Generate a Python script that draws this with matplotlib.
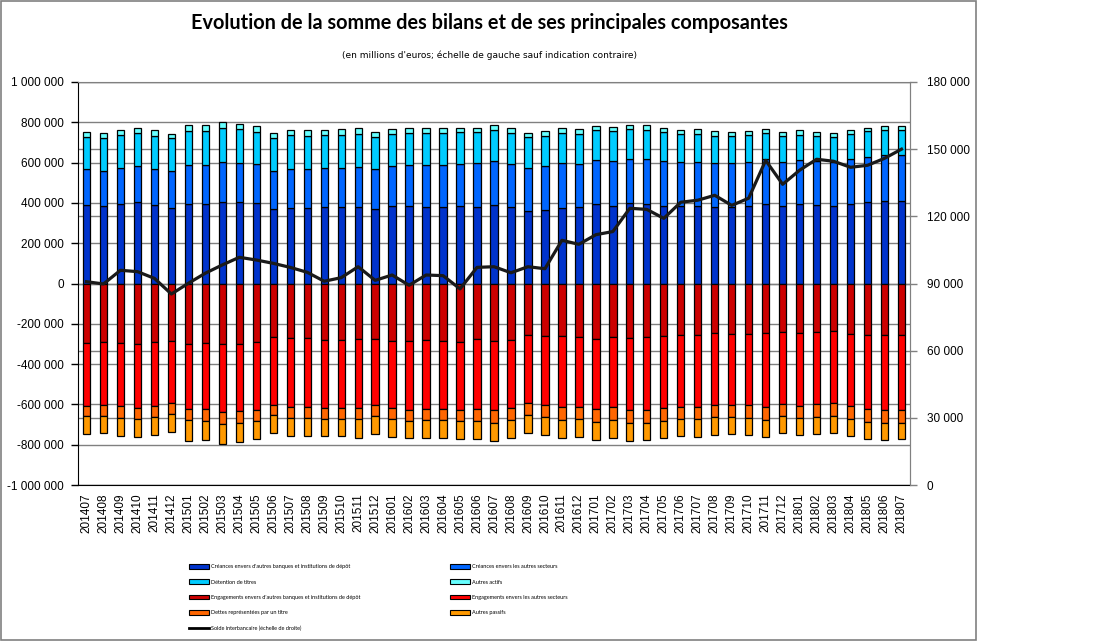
import matplotlib
matplotlib.use("Agg")
import matplotlib.pyplot as plt
from matplotlib.patches import Patch, Rectangle
from matplotlib.lines import Line2D
from matplotlib.ticker import FuncFormatter
import numpy as np

# periods 201407 .. 201807
months = []
for y in range(2014, 2019):
    for m in range(1, 13):
        p = y * 100 + m
        if 201407 <= p <= 201807:
            months.append(str(p))

# actifs (millions d'euros)
creances_banques = [388, 383, 393, 403, 388, 373, 393, 393, 403, 403, 398, 368, 373, 373, 378, 378, 378,
                    368, 383, 383, 378, 378, 383, 378, 388, 378, 358, 363, 373, 378, 393, 383, 398, 393,
                    383, 383, 383, 378, 378, 383, 393, 383, 393, 388, 383, 393, 403, 408, 408]
creances_secteurs = [179, 174, 179, 178, 179, 184, 193, 193, 198, 193, 193, 189, 194, 194, 194, 194, 199,
                     199, 198, 203, 208, 208, 208, 218, 218, 213, 214, 218, 223, 213, 218, 223, 218, 223,
                     223, 218, 218, 218, 218, 218, 223, 218, 218, 218, 218, 223, 223, 228, 228]
titres = [158, 163, 165, 166, 165, 163, 169, 169, 169, 169, 159, 163, 168, 163, 163, 163, 163,
          158, 159, 159, 159, 159, 159, 154, 154, 154, 153, 149, 149, 149, 149, 149, 149, 144,
          144, 139, 139, 134, 134, 134, 129, 129, 124, 124, 124, 124, 129, 124, 124]
autres_actifs = [25, 25, 23, 23, 28, 20, 30, 30, 30, 25, 30, 25, 25, 30, 25, 30, 30,
                 25, 25, 25, 25, 25, 20, 20, 25, 25, 20, 25, 25, 25, 20, 20, 20, 25,
                 20, 20, 25, 25, 20, 20, 20, 20, 25, 20, 20, 20, 18, 20, 20]

# passifs (millions d'euros, negatifs)
engag_banques = [-297, -292, -297, -302, -292, -287, -302, -297, -302, -302, -292, -267, -272, -272, -282, -282, -277,
                 -277, -287, -287, -282, -287, -292, -277, -287, -282, -257, -262, -262, -267, -277, -267, -272, -267,
                 -262, -257, -257, -247, -252, -252, -247, -242, -247, -242, -237, -252, -257, -257, -257]
engag_secteurs = [-309, -309, -313, -318, -318, -308, -323, -328, -337, -332, -337, -338, -343, -343, -338, -338, -343,
                  -328, -333, -342, -343, -338, -337, -348, -342, -338, -338, -343, -353, -348, -348, -348, -357, -362,
                  -358, -358, -358, -358, -353, -353, -368, -358, -363, -358, -358, -358, -368, -372, -372]
dettes_titre = [-53, -58, -59, -54, -54, -54, -54, -59, -60, -60, -55, -49, -54, -54, -54, -54, -54,
                -54, -54, -55, -54, -54, -55, -59, -65, -59, -59, -59, -64, -59, -64, -64, -65, -65,
                -64, -59, -59, -59, -59, -64, -64, -59, -59, -64, -64, -64, -64, -65, -65]
autres_passifs = [-90, -85, -89, -89, -90, -90, -104, -94, -99, -94, -89, -90, -89, -89, -84, -84, -94,
                  -90, -89, -84, -89, -89, -89, -89, -89, -89, -90, -90, -89, -89, -89, -89, -89, -84,
                  -84, -84, -89, -90, -85, -85, -84, -85, -85, -85, -85, -84, -84, -84, -79]

# solde interbancaire (echelle de droite, millions d'euros)
solde = [90.8, 89.8, 95.9, 95.3, 92.3, 85.3, 90.1, 94.6, 98.3, 101.7, 100.5, 99.0, 97.2, 95.0, 91.0, 92.6, 97.5,
         91.4, 93.8, 89.2, 93.8, 93.5, 87.6, 97.2, 97.5, 94.8, 97.5, 96.6, 109.3, 107.5, 111.8, 113.2, 123.6, 123.1,
         119.1, 126.3, 127.2, 129.4, 124.9, 128.1, 145.0, 134.3, 140.6, 145.5, 144.6, 141.9, 142.8, 145.9, 150.0]

labels_actifs = ["Créances envers d'autres banques et institutions de dépôt",
                 "Créances envers les autres secteurs",
                 "Détention de titres",
                 "Autres actifs"]
labels_passifs = ["Engagements envers d'autres banques et institutions de dépôt",
                  "Engagements envers les autres secteurs",
                  "Dettes représentées par un titre",
                  "Autres passifs"]
label_solde = "Solde interbancaire (échelle de droite)"

col_actifs = ["#0033CC", "#0066FF", "#00CCFF", "#66FFFF"]
col_passifs = ["#CC0000", "#FF0000", "#FF6600", "#FF9900"]

W, H = 1101, 641
fig = plt.figure(figsize=(W / 100, H / 100), dpi=100)
fig.patch.set_facecolor("white")

ax = fig.add_axes([78 / W, 1 - 485 / H, (910 - 78) / W, (485 - 82) / H])
x = np.arange(len(months))
bw = 0.43

bottom = np.zeros(len(months))
for vals, c in zip([creances_banques, creances_secteurs, titres, autres_actifs], col_actifs):
    v = np.array(vals) * 1000
    ax.bar(x, v, bw, bottom=bottom, color=c, edgecolor="black", linewidth=0.9, zorder=2)
    bottom += v

bottom = np.zeros(len(months))
for vals, c in zip([engag_banques, engag_secteurs, dettes_titre, autres_passifs], col_passifs):
    v = np.array(vals) * 1000
    ax.bar(x, v, bw, bottom=bottom, color=c, edgecolor="black", linewidth=0.9, zorder=2)
    bottom += v

ax.set_xlim(-0.5, len(months) - 0.5)
ax.set_ylim(-1000000, 1000000)
ax.set_yticks(range(-1000000, 1000001, 200000))
fmt = FuncFormatter(lambda v, p: f"{v:,.0f}".replace(",", " "))
ax.yaxis.set_major_formatter(fmt)
ax.set_xticks(x)
ax.set_xticklabels(months, rotation=90, fontsize=8.5, family="Liberation Sans")
ax.tick_params(axis="x", length=0, pad=6)
ax.tick_params(axis="y", length=5, width=1, labelsize=8.5, pad=5)
for t in ax.get_yticklabels():
    t.set_family("Liberation Sans")

ax.set_axisbelow(True)
ax.grid(axis="y", color="#808080", linewidth=1, zorder=0)

ax.spines["left"].set_color("black")
ax.spines["bottom"].set_color("black")
ax.spines["top"].set_color("#808080")
ax.spines["right"].set_color("#808080")

# right axis
right_ticks = list(range(0, 180001, 30000))
for t in right_ticks:
    ax.axhline(-1000000 + t / 180000 * 2000000, color="#808080", linewidth=1, zorder=0)

ax2 = ax.twinx()
ax2.plot(x, np.array(solde) * 1000, color="#1a1a1a", linewidth=2.3, zorder=5)
ax2.set_ylim(0, 180000)
ax2.set_yticks(right_ticks)
ax2.yaxis.set_major_formatter(fmt)
ax2.tick_params(axis="y", length=5, width=1, color="#808080", labelsize=8.5, pad=7)
for t in ax2.get_yticklabels():
    t.set_family("Liberation Sans")
for s in ["left", "bottom", "top"]:
    ax2.spines[s].set_visible(False)
ax2.spines["right"].set_color("#808080")

# titles
fig.text(489 / W, 1 - 23 / H, "Evolution de la somme des bilans et de ses principales composantes",
         ha="center", va="center", fontsize=14.3, fontweight="bold", family="Lato")
fig.text(490 / W, 1 - 55 / H, "(en millions d'euros; échelle de gauche sauf indication contraire)",
         ha="center", va="center", fontsize=6.5, family="DejaVu Sans")

# legend
def box(c):
    return Patch(facecolor=c, edgecolor="black", linewidth=0.8)

left_h = [box(col_actifs[0]), box(col_actifs[2]), box(col_passifs[0]), box(col_passifs[2]),
          Line2D([], [], color="black", linewidth=2)]
left_l = [labels_actifs[0], labels_actifs[2], labels_passifs[0], labels_passifs[2], label_solde]
right_h = [box(col_actifs[1]), box(col_actifs[3]), box(col_passifs[1]), box(col_passifs[3])]
right_l = [labels_actifs[1], labels_actifs[3], labels_passifs[1], labels_passifs[3]]

legkw = dict(loc="upper left", frameon=False, borderpad=0, borderaxespad=0,
             handlelength=3.6, handleheight=0.9, handletextpad=0.35, labelspacing=1.83,
             prop={"family": "Lato", "size": 4.0})
fig.legend(left_h, left_l, bbox_to_anchor=(189 / W, 1 - 564 / H), **legkw)
fig.legend(right_h, right_l, bbox_to_anchor=(450 / W, 1 - 564 / H), **legkw)

# chart frame
fig.add_artist(Rectangle((0.5 / W, 1 - 640 / H), 975 / W, 639.5 / H, transform=fig.transFigure,
                         fill=False, edgecolor="#808080", linewidth=1.2))

fig.savefig("out.png", dpi=100)
